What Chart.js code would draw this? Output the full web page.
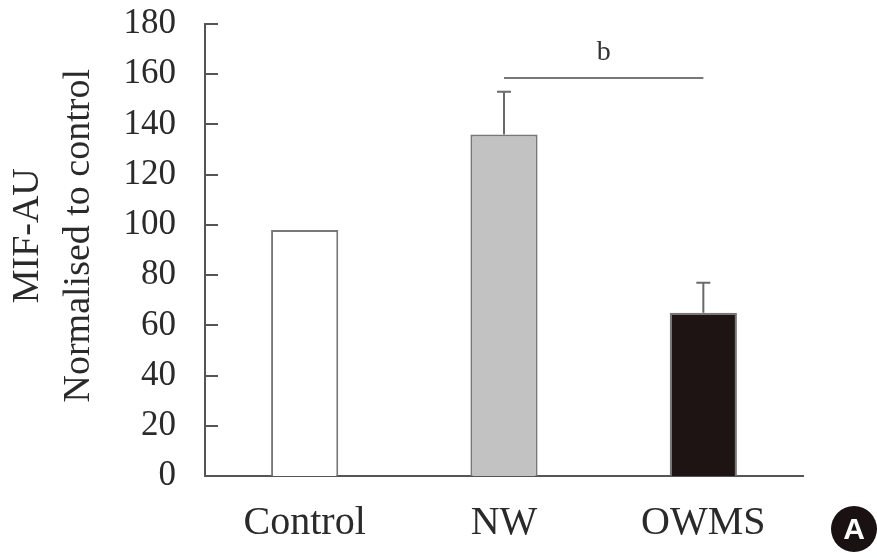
<!DOCTYPE html>
<html>
<head>
<meta charset="utf-8">
<script src="https://cdn.jsdelivr.net/npm/chart.js@4"></script>
<style>
  body { margin: 0; background: #fff; }
  #wrap { width: 877px; height: 558px; }
</style>
</head>
<body>
<div id="wrap"><canvas id="chart" width="877" height="558"></canvas></div>
<script>
// chart values
const groups = ['Control', 'NW', 'OWMS'];
const means = [98, 136, 65];
const errors = [0, 17, 12];
const yTicks = [0, 20, 40, 60, 80, 100, 120, 140, 160, 180];

// significance bar between NW and OWMS
const sigFrom = [1];
const sigTo = [2];
const sigLevel = [158.5];
const sigText = ['b'];

const fillColors = ['#ffffff', '#c2c2c2', '#1e1414'];
const axisColor = '#555555';
const serif = "'Liberation Serif', 'Times New Roman', serif";

// error bars, inner ticks, significance line, panel letter
const extras = {
  id: 'extras',
  afterDatasetsDraw(chart) {
    const ctx = chart.ctx;
    const x = chart.scales.x;
    const y = chart.scales.y;
    const area = chart.chartArea;

    ctx.save();
    ctx.strokeStyle = axisColor;
    ctx.lineWidth = 2;

    // ticks pointing into the plot
    yTicks.forEach(v => {
      if (v === 0) return;
      const py = Math.round(y.getPixelForValue(v));
      ctx.beginPath();
      ctx.moveTo(area.left, py);
      ctx.lineTo(area.left + 13, py);
      ctx.stroke();
    });

    // upper error bars
    ctx.strokeStyle = '#6a6a6a';
    means.forEach((m, i) => {
      if (!errors[i]) return;
      const px = x.getPixelForValue(i);
      const top = y.getPixelForValue(m + errors[i]);
      const base = y.getPixelForValue(m);
      ctx.beginPath();
      ctx.moveTo(px, base);
      ctx.lineTo(px, top);
      ctx.moveTo(px - 7, top);
      ctx.lineTo(px + 7, top);
      ctx.stroke();
    });

    // significance line
    ctx.strokeStyle = '#777777';
    ctx.fillStyle = '#333333';
    ctx.font = '28px ' + serif;
    ctx.textAlign = 'center';
    ctx.textBaseline = 'alphabetic';
    sigFrom.forEach((a, i) => {
      const x1 = x.getPixelForValue(a);
      const x2 = x.getPixelForValue(sigTo[i]);
      const py = y.getPixelForValue(sigLevel[i]);
      ctx.beginPath();
      ctx.moveTo(x1, py);
      ctx.lineTo(x2, py);
      ctx.stroke();
      ctx.fillText(sigText[i], (x1 + x2) / 2, py - 18);
    });

    // panel letter
    ctx.fillStyle = '#1a1212';
    ctx.beginPath();
    ctx.arc(854, 529, 23, 0, Math.PI * 2);
    ctx.fill();
    ctx.fillStyle = '#ffffff';
    ctx.font = "bold 30px 'Liberation Sans', Arial, sans-serif";
    ctx.textBaseline = 'middle';
    ctx.fillText('A', 854, 531);
    ctx.restore();
  }
};

new Chart(document.getElementById('chart'), {
  type: 'bar',
  data: {
    labels: groups,
    datasets: [{
      data: means,
      backgroundColor: fillColors,
      borderColor: '#777777',
      borderWidth: 2,
      borderSkipped: 'bottom',
      categoryPercentage: 1,
      barPercentage: 0.337
    }]
  },
  options: {
    responsive: false,
    animation: false,
    layout: { padding: { left: 0, right: 74, top: 0, bottom: 0 } },
    plugins: {
      legend: { display: false },
      tooltip: { enabled: false }
    },
    scales: {
      x: {
        grid: { display: false, drawTicks: false },
        border: { display: true, color: axisColor, width: 2 },
        ticks: {
          color: '#2a2a2a',
          padding: 23,
          font: { family: serif, size: 40 }
        },
        afterFit: s => { s.height = 82; }
      },
      y: {
        min: 0,
        max: 180,
        grid: { display: false, drawTicks: false },
        border: { display: true, color: axisColor, width: 2 },
        ticks: {
          stepSize: 20,
          color: '#2a2a2a',
          padding: 29,
          font: { family: serif, size: 35 }
        },
        title: {
          display: true,
          text: ['\u00a0\u00a0\u00a0MIF-AU', '\u00a0\u00a0\u00a0Normalised to control'],
          color: '#2a2a2a',
          font: { family: serif, size: 38, lineHeight: 1.34 },
          padding: { top: 3, bottom: 0 }
        },
        afterFit: s => {
          s.width = 205;
          s.paddingTop = 24;
          s.paddingBottom = 0;
        }
      }
    }
  },
  plugins: [extras]
});
</script>
</body>
</html>
